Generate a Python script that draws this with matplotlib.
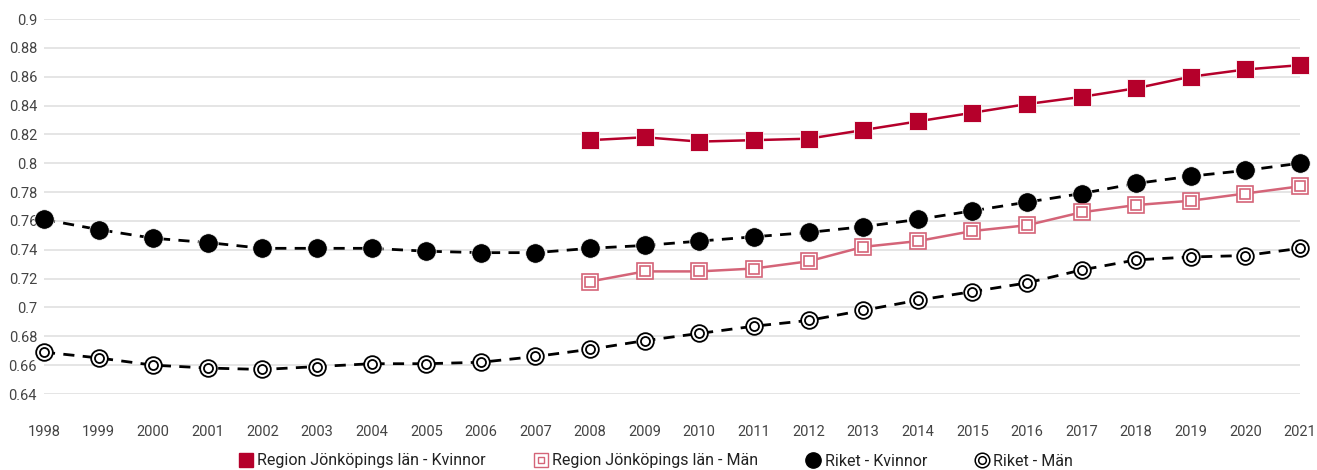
import matplotlib
matplotlib.use("Agg")
import matplotlib.pyplot as plt
from matplotlib.lines import Line2D
from matplotlib.legend_handler import HandlerTuple

plt.rcParams['font.family'] = ['Roboto', 'DejaVu Sans']

years = list(range(1998, 2022))
region_years = list(range(2008, 2022))
region_kvinnor = [0.816, 0.818, 0.815, 0.816, 0.817, 0.823, 0.829, 0.835, 0.841, 0.846,
                  0.852, 0.860, 0.865, 0.868]
region_man = [0.718, 0.725, 0.725, 0.727, 0.732, 0.742, 0.746, 0.753, 0.757, 0.766,
              0.771, 0.774, 0.779, 0.784]
riket_kvinnor = [0.761, 0.754, 0.748, 0.745, 0.741, 0.741, 0.741, 0.739, 0.738, 0.738,
                 0.741, 0.743, 0.746, 0.749, 0.752, 0.756, 0.761, 0.767, 0.773, 0.779,
                 0.786, 0.791, 0.795, 0.800]
riket_man = [0.669, 0.665, 0.660, 0.658, 0.657, 0.659, 0.661, 0.661, 0.662, 0.666,
             0.671, 0.677, 0.682, 0.687, 0.691, 0.698, 0.705, 0.711, 0.717, 0.726,
             0.733, 0.735, 0.736, 0.741]
yticks = [0.64, 0.66, 0.68, 0.7, 0.72, 0.74, 0.76, 0.78, 0.8, 0.82, 0.84, 0.86, 0.88, 0.9]
ytick_labels = ["0.64", "0.66", "0.68", "0.7", "0.72", "0.74", "0.76", "0.78", "0.8",
                "0.82", "0.84", "0.86", "0.88", "0.9"]

RED = "#b5002b"
PINK = "#d46478"

W, H = 1317, 470
fig = plt.figure(figsize=(W / 100, H / 100), dpi=100)
ax = fig.add_axes([44 / W, 1 - 394 / H, (1300 - 44) / W, (394 - 19) / H])
ax.set_xlim(1998, 2021)
ax.set_ylim(0.64, 0.9)
ax.set_yticks(yticks)
ax.set_yticklabels(ytick_labels)
ax.set_xticks(years)
ax.set_xticklabels([str(y) for y in years])
ax.grid(axis='y', color='#e0e0e0', linewidth=1.2)
ax.set_axisbelow(True)
for s in ax.spines.values():
    s.set_visible(False)
ax.tick_params(axis='both', length=0, labelsize=10.5, colors='#444444')
ax.tick_params(axis='y', pad=5)
ax.tick_params(axis='x', pad=22)

dash = (0, (4, 3))

ax.plot(region_years, region_kvinnor, color=RED, lw=1.8, marker='s', ms=13,
        mfc=RED, mec='white', mew=0.6, clip_on=False, zorder=4)

ax.plot(region_years, region_man, color=PINK, lw=1.8, marker='s', ms=12,
        mfc='white', mec=PINK, mew=1.2, clip_on=False, zorder=4)
ax.plot(region_years, region_man, ls='none', marker='s', ms=6.5,
        mfc='white', mec=PINK, mew=1.2, clip_on=False, zorder=5)

ax.plot(years, riket_kvinnor, color='black', lw=2, ls=dash, marker='o', ms=14,
        mfc='black', mec='white', mew=0.5, clip_on=False, zorder=3)

ax.plot(years, riket_man, color='black', lw=2, ls=dash, marker='o', ms=12,
        mfc='white', mec='black', mew=1.3, clip_on=False, zorder=3)
ax.plot(years, riket_man, ls='none', marker='o', ms=6.5,
        mfc='white', mec='black', mew=1.3, clip_on=False, zorder=4)

h1 = Line2D([], [], ls='none', marker='s', ms=10, mfc=RED, mec=RED)
h2a = Line2D([], [], ls='none', marker='s', ms=10, mfc='white', mec=PINK, mew=1.0)
h2b = Line2D([], [], ls='none', marker='s', ms=5, mfc='white', mec=PINK, mew=1.0)
h3 = Line2D([], [], ls='none', marker='o', ms=11, mfc='black', mec='black')
h4a = Line2D([], [], ls='none', marker='o', ms=10.5, mfc='white', mec='black', mew=1.1)
h4b = Line2D([], [], ls='none', marker='o', ms=5.5, mfc='white', mec='black', mew=1.1)

fig.legend([h1, (h2a, h2b), h3, (h4a, h4b)],
           ["Region Jönköpings län - Kvinnor", "Region Jönköpings län - Män",
            "Riket - Kvinnor", "Riket - Män"],
           handler_map={tuple: HandlerTuple(ndivide=1)},
           loc='center', bbox_to_anchor=(656 / W, 1 - 461 / H), ncol=4, frameon=False,
           fontsize=11.5, handlelength=0.9, handletextpad=0.25, columnspacing=3.0,
           labelcolor='#222222')

fig.savefig("out.png", dpi=100)
